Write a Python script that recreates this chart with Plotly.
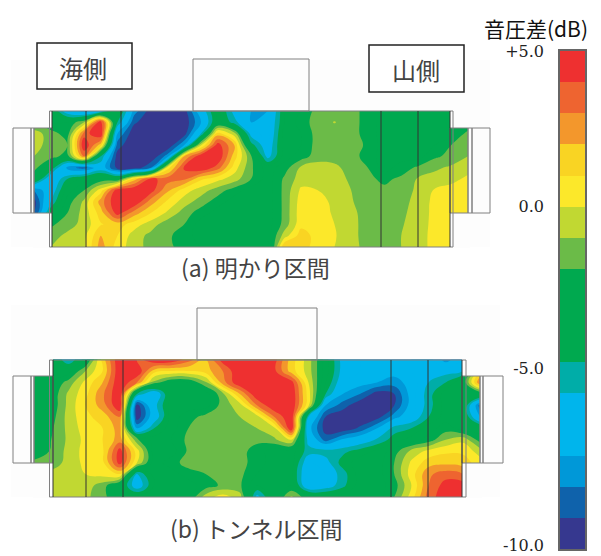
import numpy as np
import plotly.graph_objects as go

W, H = 601, 556
PAGE_X, PAGE_Y = 8, 8   # the page body's own offset of the figure
BAND_EDGES = [-11, -10, -9, -8, -6, -5, -2, -1, 0, 1, 2, 3, 4, 5]
BAND_COLORS = ["#36388f", "#0f62ab", "#0098d8", "#00b5ec", "#00ada8", "#00a94f", "#6bbb48",
               "#c1d832", "#fce82a", "#f9d423", "#f3972c", "#ee6430", "#ee3030"]
TICK_VALUES = [5, 0, -5.2, -10.9]
TICK_LABELS = ["+5.0", "0.0", "-5.0", "-10.0"]

Z_A = [
 [-3,-3.5,-7,-8.5,-6.5,-3,-8.5,-10.5,-10.5,-10.5,-7,-3.5,-6.5,-8,-8,-4,-3,-1.5,-1.5,-1.5,-2.5,-3.5,-3.5,-3.5,-3.5,-3.5,-3.5],
 [-2,-3,-3,-1,5,-5,-9.8,-10.8,-11,-10.8,-8,-3.5,-5.5,-8,-7.5,-4,-2.5,-1.5,-0.95,-1.5,-2.5,-3.5,-3.5,-3.5,-3.5,-3.5,-3.5],
 [-0.5,-1.5,-2.5,3.5,5,-8,-10.8,-11,-11,-10.5,-6,1.5,-0.5,-6.5,-7.5,-3.5,-3,-1.5,-1.5,-1.5,-2.5,-3.5,-3.5,-3.5,-3.5,-3.5,-1.5],
 [-0.5,-1.5,-2,5,1.5,-9.5,-11,-11,-11,-8,-0.2,4.5,2,-4.5,-7,-3.5,-3,-1.5,-1.5,-1.5,-2.2,-3.5,-3.5,-3.5,-3,-2,-1.5],
 [-1,-1.5,-2.5,3,-5,-10.5,-11,-11,-8.5,2,4.8,5,1.5,-1.8,-6.5,-3.5,-2.5,-1.5,-1.5,-1.5,-2.5,-3.5,-3.5,-3.5,-2.2,-1.7,-1],
 [-1.5,-4,-8.5,-9.5,-7,-10.5,-10.8,-9,0.5,4.2,5,3.5,0.5,-1.8,-3.5,-2.5,-0.8,-0.5,-0.7,-1.5,-2,-3.5,-2.5,-1.8,-1.2,-0.8,-0.5],
 [-3,-7.5,-5,-3.5,-2.7,-3,1.5,4.3,3.5,3.2,1.2,0.3,-0.5,-2,-3.5,-1.8,-0.5,-0.2,-0.5,-1.2,-1.8,-2.2,-1.8,-0.9,-0.6,-0.4,0.3],
 [-9,-7,-3.5,-2,0.5,4.7,5,4.5,2.2,0.5,-0.5,-1.5,-2.5,-3.5,-3.5,-1.7,0.2,0,-0.4,-1,-1.6,-1.8,-1.5,-0.8,0.1,0.5,0.6],
 [-10.5,-6,-2.5,-0.8,2.5,5,5,2.5,0.8,-0.5,-1.5,-2.5,-3.5,-3.5,-3.5,-1.7,0.5,0.5,-0.3,-0.9,-1.6,-1.7,-1.3,-0.7,0.3,0.7,0.7],
 [-10.5,-4,-2,-0.6,1.5,4.5,2.5,1,-0.2,-1.5,-2.5,-3.5,-3.5,-3.5,-3.5,-1.7,0.6,0.7,-0.2,-0.7,-1.5,-1.6,-1.2,-0.6,0.3,0.7,0.7],
 [-3,-2.2,-1.5,-0.6,0.9,1.5,0.5,-0.5,-1.6,-2,-3.5,-3.5,-3.5,-3.5,-3.5,-1.6,0.7,0.7,0,-0.7,-1.4,-1.5,-1.1,-0.5,0.3,0.7,0.7],
 [-2,-1.5,-0.7,-0.3,2,1,-0.5,-1.3,-1.8,-2.5,-3.5,-3.5,-3.5,-3.5,-3.5,-0.5,1.5,0.6,0.1,-0.7,-1.4,-1.5,-1,-0.4,0.3,0.7,0.7],
 [-1.5,-1,-0.5,-0.2,2.5,0.5,-0.5,-1.4,-1.7,-2.5,-3,-3.5,-3,-3.5,-4.5,2,1.5,0.5,0,-0.7,-1.3,-1.5,-1,-0.4,0.3,0.6,0.7],
]
Z_B = [
 [-3.5,-3.5,-6,-3.5,1.5,5,4,5,5,3.5,2,4.5,5,5,4.5,1.5,-0.5,-3.5,-6.5,-7,-7,-7,-7,-6.5,-8.5,-7,-3.5],
 [-3.5,-3.5,-3.5,-1,1,5,5,1.5,1,1,1.5,3,5,5,4.3,1.5,-0.5,-3.5,-6.5,-7,-7.3,-7.5,-7,-6,-6.5,-6,1],
 [-3.5,-3,-1.6,0.3,2,5,3,-1.5,-3,-3,-1.2,2.5,5,5,5,4.5,0,-4,-7,-7.5,-8,-8.5,-7.5,-6,-5,-3,3],
 [-3.5,-2.8,-0.8,0.7,2.8,5,-5,-7.5,-3.5,-3.5,-3.5,-1.3,2,5,5,5,0.5,-5,-8,-9,-10.5,-10,-7.5,-5.5,-3.5,-3.5,-3],
 [-3.5,-2.8,-0.7,1,2.5,5,-10.5,-6.5,-3.5,-3.5,-3.5,-1.5,-0.5,3,5,5,0.3,-8,-9.5,-10.8,-11,-10,-7.5,-5.5,-3.5,-3.5,-9.5],
 [-3.5,-2.5,-0.6,0.7,1.5,3,-10.8,-7,-3.5,-2.5,-1.6,-1.5,-1,-0.5,3,5,-6,-10,-10.8,-11,-10.5,-8.5,-7,-5,-3.5,-3.5,-8],
 [-3,-2.2,-0.7,0.5,1,2.5,-8,-5,-3.5,-2,-1.5,-1.5,-1.5,-1,-0.3,5,-7.5,-10.5,-10.8,-9.8,-8,-5.5,-5,-3.5,-2.5,-3.5,-3.5],
 [-3,-2,-0.8,0.3,1,2.5,-1.7,-3.5,-3,-1.7,-1.5,-1.5,-1.5,-1.7,-1.2,0,-6.5,-9.5,-7.8,-7,-5.8,-4.5,-3.5,-2.6,-1,-0.3,-2.5],
 [-3.5,-1.8,-0.7,0.4,0.8,4.5,0.5,-3.5,-3.5,-1.8,-1.5,-1.5,-1.6,-2.5,-3.5,-3.5,-5.5,-5.5,-5.3,-4.5,-3.8,-2.5,-0.7,0.3,0.8,0.8,-0.5],
 [-1.5,-1.5,-0.7,0.3,0.7,4.5,0,-3.5,-2.5,-1.5,-1.5,-1.5,-1.6,-2.5,-3.5,-3.5,-7,-6.5,-4.5,-3.5,-3.5,-2,0.2,1.5,1.7,1.5,0.5],
 [-1,-0.7,-0.6,0,0.4,1,-6,-3.5,-3.5,-2.5,-2,-1.8,-1.7,-3,-3.5,-3.8,-7.5,-7,-5.5,-3.5,-3.5,-2,0.5,2.8,3.5,3,1],
 [-1,-0.7,-0.6,-0.5,-1.5,-3.5,-7,-4,-3.5,-3.5,-2.5,-1.8,-1.8,-4,-3.5,-3,-7.5,-6.8,-5.3,-3.5,-3.5,-2.5,0,3,4.5,4.5,1],
 [-1,-0.7,-0.6,-0.8,-1.5,-3.5,-3.5,-3.5,-3.5,-3,-0.5,0.5,-0.5,-6.5,-3.5,-0.8,-2.8,-3.5,-3.5,-3.5,-3.5,-2,0.5,3.5,4.7,4.7,1],
]
TITLE = "音圧差(dB)"
CAPTION_A, CAPTION_B = "(a) 明かり区間", "(b) トンネル区間"
SIDE_A, SIDE_B = "海側", "山側"

Z_MIN, Z_MAX = BAND_EDGES[0], BAND_EDGES[-1]
scale = []
for lo, hi, c in zip(BAND_EDGES[:-1], BAND_EDGES[1:], BAND_COLORS):
    scale += [[(lo - Z_MIN) / (Z_MAX - Z_MIN), c], [(hi - Z_MIN) / (Z_MAX - Z_MIN), c]]

def contour(z, x0, x1, y0, y1):
    z = np.array(z, dtype=float)
    return go.Contour(
        z=z, x=np.linspace(x0, x1, z.shape[1]), y=np.linspace(y0, y1, z.shape[0]),
        zmin=Z_MIN, zmax=Z_MAX, colorscale=scale, showscale=False, hoverinfo="skip",
        autocontour=False, contours=dict(start=Z_MIN + 1, end=Z_MAX - 1, size=1, coloring="fill", showlines=False),
        line=dict(width=0, smoothing=1.2), xaxis="x", yaxis="y",
    )

fig = go.Figure()
fig.add_trace(contour(Z_A, 34, 468, 111, 247))
fig.add_trace(contour(Z_B, 34, 480, 359.5, 497))

band_y = np.arange(Z_MIN, Z_MAX) + 0.5
fig.add_trace(go.Heatmap(z=[[v] for v in band_y], y=band_y, x=[0], zmin=Z_MIN, zmax=Z_MAX,
                         colorscale=scale, showscale=False, hoverinfo="skip", xaxis="x2", yaxis="y2"))

shapes = []
def rect(x0, y0, x1, y1, fill=None, color=None, width=1, layer="above"):
    shapes.append(dict(type="rect", xref="x", yref="y", x0=x0, y0=y0, x1=x1, y1=y1, layer=layer,
                       fillcolor=fill or "rgba(0,0,0,0)",
                       line=dict(color=color or "rgba(0,0,0,0)", width=width if color else 0)))
def vline(x, y0, y1, color="#333333", width=1):
    shapes.append(dict(type="line", xref="x", yref="y", x0=x, x1=x, y0=y0, y1=y1, layer="above",
                       line=dict(color=color, width=width)))

BG = "#fdfdfd"; GR = "#808080"
rect(11, 60, 490, 247, fill=BG, layer="below")
rect(11, 305, 500, 497, fill=BG, layer="below")

# panel a
rect(33, 110, 52, 128, fill=BG); rect(33, 213, 52, 248, fill=BG)
rect(450, 110, 470, 128, fill=BG); rect(450, 213, 470, 248, fill=BG)
rect(193, 59, 309, 111, color=GR)
rect(49.5, 111, 453, 247, color=GR)
rect(13, 128, 31, 213, color=GR); rect(31, 128, 34, 213, color=GR)
rect(34, 128, 52, 213, color=GR)
rect(450, 128, 468, 213, color=GR); rect(468, 128, 472, 213, color=GR); rect(472, 128, 490, 213, color=GR)
for x in (52, 86, 121, 381, 418, 450):
    vline(x, 111, 247)
# panel b
rect(33, 358, 53, 376, fill=BG); rect(33, 463, 53, 498, fill=BG)
rect(462, 358, 482, 376, fill=BG); rect(462, 463, 482, 498, fill=BG)
rect(197, 308, 317, 360, color=GR)
rect(49.5, 360, 466, 497, color=GR)
rect(13, 376, 31, 463, color=GR); rect(31, 376, 34, 463, color=GR)
rect(34, 376, 53, 463, color=GR)
rect(462, 376, 480, 463, color=GR); rect(480, 376, 483, 463, color=GR); rect(483, 376, 503, 463, color=GR)
for x in (53, 86, 123, 391, 428, 462):
    vline(x, 360, 497)
# label boxes
rect(37, 43, 132, 89, fill="white", color="#222222", width=1.5)
rect(369, 45, 464, 92, fill="white", color="#222222", width=1.5)

CJK = "Noto Sans CJK JP"
def text(x, y, s, size, color="#444444", font=CJK):
    return dict(x=x, y=y, xref="x", yref="y", text=s, showarrow=False, xanchor="center", yanchor="middle",
                font=dict(size=size, color=color, family=font))
annotations = [
    text(83, 67, SIDE_A, 24), text(416, 69, SIDE_B, 24),
    text(255, 267, CAPTION_A, 23), text(256, 528, CAPTION_B, 23),
    text(536, 28, TITLE, 21, "#111111"),
]

FW, FH = W - PAGE_X, H - PAGE_Y
fig.update_layout(
    width=FW, height=FH, margin=dict(l=0, r=0, t=0, b=0, autoexpand=False), paper_bgcolor="white",
    plot_bgcolor="rgba(0,0,0,0)", showlegend=False, shapes=shapes, annotations=annotations,
    xaxis=dict(range=[PAGE_X, W], domain=[0, 1], visible=False, fixedrange=True, automargin=False),
    yaxis=dict(range=[H, PAGE_Y], domain=[0, 1], visible=False, fixedrange=True, automargin=False),
    xaxis2=dict(domain=[(560 - PAGE_X) / FW, (585 - PAGE_X) / FW], range=[-0.5, 0.5], anchor="y2", automargin=False,
                showticklabels=False, ticks="", showline=True, mirror=True, linecolor="#666666", linewidth=1.5,
                showgrid=False, zeroline=False),
    yaxis2=dict(domain=[(H - 549) / FH, (H - 51) / FH], range=[Z_MIN, Z_MAX], anchor="x2", side="left", automargin=False,
                tickvals=TICK_VALUES, ticktext=TICK_LABELS, ticks="outside", ticklen=11, tickcolor="rgba(0,0,0,0)",
                tickfont=dict(size=16, color="#222222", family="DejaVu Serif"),
                showline=True, mirror=True, linecolor="#666666", linewidth=1.5, showgrid=False, zeroline=False),
)
fig.write_html("out.html")
